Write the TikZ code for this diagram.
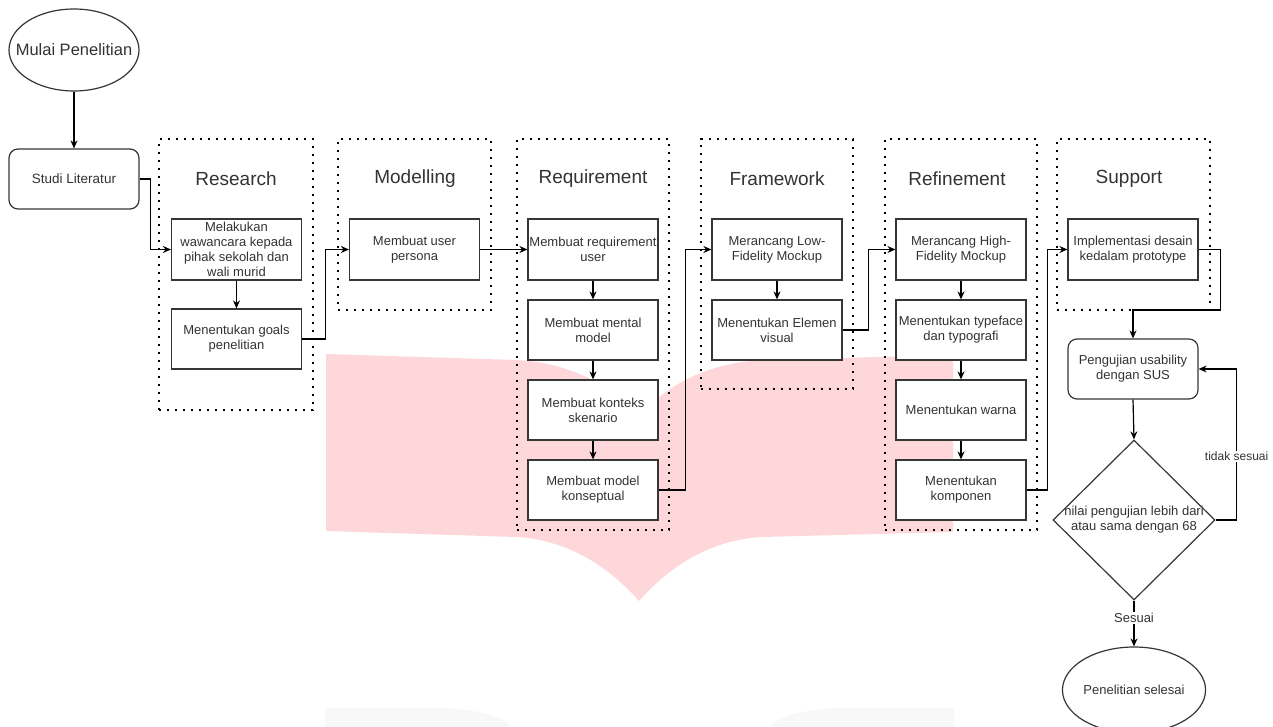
\documentclass[tikz,border=0pt]{standalone}
\usepackage{fontspec}
\setmainfont{Liberation Sans}
\usetikzlibrary{arrows.meta,shapes.geometric,calc}
\definecolor{wm}{RGB}{253,215,218}
\definecolor{wmgrey}{RGB}{248,248,248}
\definecolor{txt}{RGB}{51,51,51}
\definecolor{bord}{RGB}{54,54,54}
\begin{document}
\begin{tikzpicture}[x=1pt,y=-1pt,
  box/.style={draw=bord, line width=1.2pt, fill=white, minimum width=130pt, minimum height=61pt, inner sep=1pt, align=center, text=txt, font=\fontsize{13}{15}\selectfont},
  rbox/.style={box, rounded corners=9pt},
  frm/.style={draw=black, line width=2.2pt, dash pattern=on 2.2pt off 5.8pt, inner sep=0pt},
  ttl/.style={text=txt, font=\fontsize{19}{22}\selectfont, inner sep=0pt},
  arr/.style={-{Stealth[length=8pt,width=7pt]}, line width=1.2pt, black},
  lbl/.style={fill=white, text=txt, inner sep=1pt},
]
\useasboundingbox (0,0) rectangle (1273,727);
% watermark
\fill[wm] (326,354) -- (516,360) .. controls (560,362) and (610,380) .. (639,418)
  .. controls (668,380) and (718,362) .. (762,360) -- (953,355) -- (953,532) -- (762,537)
  .. controls (710,540) and (670,566) .. (639,601) .. controls (608,566) and (568,540) .. (516,537)
  -- (326,531) -- cycle;
\fill[wmgrey] (325,727) -- (325,708) -- (438,708) .. controls (480,708) and (511,720) .. (511,727) -- cycle;
\fill[wmgrey] (954,727) -- (954,708) -- (844,708) .. controls (800,708) and (771,720) .. (771,727) -- cycle;

% frames
\node[frm, minimum width=154pt, minimum height=271pt] (fres) at (236,274.5) {};
\node[frm, minimum width=153pt, minimum height=171pt] (fmod) at (414.5,224.5) {};
\node[frm, minimum width=152pt, minimum height=391pt] (freq) at (593,334.5) {};
\node[frm, minimum width=152pt, minimum height=250pt] (ffra) at (777,264) {};
\node[frm, minimum width=152pt, minimum height=391pt] (fref) at (961,334.5) {};
\node[frm, minimum width=153pt, minimum height=171pt] (fsup) at (1133.5,224.5) {};

\node[ttl] (tres) at (236,179) {Research};
\node[ttl] (tmod) at (415,179) {Modelling};
\node[ttl] (treq) at (593,179) {Requirement};
\node[ttl] (tfra) at (777,179) {Framework};
\node[ttl] (tref) at (957,179) {Refinement};
\node[ttl] (tsup) at (1129,179) {Support};

% start
\node[ellipse, draw=bord, line width=1.2pt, fill=white, minimum width=130pt, minimum height=82pt, inner sep=0pt] (mulai) at (74,50) {};
\node[text=txt, font=\fontsize{16.5}{19}\selectfont, inner sep=0pt] (mulait) at (74,50) {Mulai Penelitian};
\node[rbox, minimum height=60pt, font=\fontsize{13.5}{15}\selectfont] (studi) at (74,179) {Studi Literatur};

% research
\node[box] (wawan) at (236.5,249.5) {Melakukan\\wawancara kepada\\pihak sekolah dan\\wali murid};
\node[box, minimum height=60pt] (goals) at (236.5,339) {Menentukan goals\\penelitian};
% modelling
\node[box] (persona) at (414.5,249.5) {Membuat user\\persona};
% requirement
\node[box] (requser) at (593,249.5) {Membuat requirement\\user};
\node[box, minimum height=60pt] (mental) at (593,330) {Membuat mental\\model};
\node[box, minimum height=60pt] (konteks) at (593,410) {Membuat konteks\\skenario};
\node[box, minimum height=60pt] (konsep) at (593,490) {Membuat model\\konseptual};
% framework
\node[box] (lowfi) at (777,249.5) {Merancang Low-\\Fidelity Mockup};
\node[box, minimum height=60pt] (elemen) at (777,330) {Menentukan Elemen\\visual};
% refinement
\node[box] (highfi) at (961,249.5) {Merancang High-\\Fidelity Mockup};
\node[box, minimum height=60pt] (typeface) at (961,330) {Menentukan typeface\\dan typografi};
\node[box, minimum height=60pt] (warna) at (961,410) {Menentukan warna};
\node[box, minimum height=60pt] (komponen) at (961,490) {Menentukan\\komponen};
% support
\node[box] (impl) at (1133,249.5) {Implementasi desain\\kedalam prototype};
\node[rbox, minimum height=60pt] (uji) at (1133,369) {Pengujian usability\\dengan SUS};
\node[diamond, draw=bord, line width=1.2pt, fill=white, minimum width=162pt, minimum height=160pt, inner sep=0pt] (dec) at (1134,520) {};
\node[align=center, text=txt, font=\fontsize{13}{15}\selectfont, inner sep=0pt] (dect) at (1134,520) {nilai pengujian lebih dari\\atau sama dengan 68};
\node[ellipse, draw=bord, line width=1.2pt, fill=white, minimum width=130pt, minimum height=86pt, inner sep=0pt, text=txt, font=\fontsize{13}{15}\selectfont] (selesai) at (1134,690) {Penelitian selesai};

% connectors
\draw[arr] (mulai) -- (studi);
\draw[arr] (studi.east) -- ++(11,0) |- (wawan.west);
\draw[arr] (wawan) -- (goals);
\draw[arr] (goals.east) -- ++(23,0) |- (persona.west);
\draw[arr] (persona) -- (requser);
\draw[arr] (requser) -- (mental);
\draw[arr] (mental) -- (konteks);
\draw[arr] (konteks) -- (konsep);
\draw[arr] (konsep.east) -- ++(26.5,0) |- (lowfi.west);
\draw[arr] (lowfi) -- (elemen);
\draw[arr] (elemen.east) -- ++(26,0) |- (highfi.west);
\draw[arr] (highfi) -- (typeface);
\draw[arr] (typeface) -- (warna);
\draw[arr] (warna) -- (komponen);
\draw[arr] (komponen.east) -- ++(21,0) |- (impl.west);
\draw[arr] (impl.east) -- ++(22,0) -- ++(0,60.5) -| (uji.north);
\draw[arr] (uji.south) -- (dec.north);
\draw[arr] (dec.east) -- ++(21,0) |- (uji.east) node[lbl, pos=0.21, font=\fontsize{12}{14}\selectfont] {tidak sesuai};
\draw[arr] (dec.south) -- (selesai.north) node[lbl, pos=0.38, font=\fontsize{13}{15}\selectfont] {Sesuai};
\end{tikzpicture}
\end{document}
